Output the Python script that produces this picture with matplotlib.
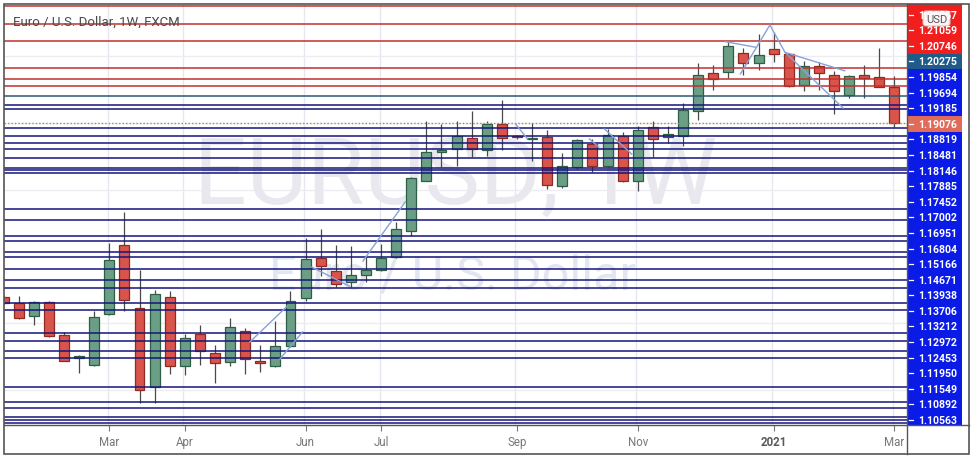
import numpy as np
import matplotlib
matplotlib.use("Agg")
import matplotlib.pyplot as plt
from matplotlib.patches import Rectangle, FancyBboxPatch
from matplotlib.lines import Line2D

plt.rcParams['font.family'] = ['Roboto', 'DejaVu Sans']

# weekly candles, EUR/USD, week of 13 Jan 2020 .. week of 1 Mar 2021
opens = [1.1117, 1.1090, 1.1032, 1.1095, 1.0946, 1.0844, 1.0811, 1.1041, 1.1351, 1.1068,
         1.0712, 1.1117, 1.0807, 1.0951, 1.0865, 1.0825, 1.0964, 1.0829, 1.0807, 1.0897,
         1.1113, 1.1293, 1.1234, 1.1185, 1.1216, 1.1239, 1.1297, 1.1414, 1.1639, 1.1770,
         1.1783, 1.1833, 1.1779, 1.1896, 1.1839, 1.1826, 1.1837, 1.1617, 1.1702, 1.1806,
         1.1707, 1.1842, 1.1639, 1.1882, 1.1837, 1.1842, 1.1954, 1.2125, 1.2130, 1.2215,
         1.2170, 1.2233, 1.2211, 1.2071, 1.2157, 1.2116, 1.2026, 1.2116, 1.2107, 1.2062]
highs = [1.1121, 1.1121, 1.1097, 1.1099, 1.0960, 1.0856, 1.1054, 1.1360, 1.1500, 1.1239,
         1.1149, 1.1144, 1.0951, 1.0991, 1.0901, 1.1022, 1.0978, 1.0901, 1.1009, 1.1144,
         1.1383, 1.1423, 1.1351, 1.1347, 1.1302, 1.1356, 1.1455, 1.1655, 1.1909, 1.1896,
         1.1909, 1.1954, 1.1909, 1.2004, 1.1846, 1.1900, 1.1869, 1.1765, 1.1828, 1.1828,
         1.1873, 1.1860, 1.1887, 1.1909, 1.1887, 1.1990, 1.2170, 1.2161, 1.2265, 1.2238,
         1.2301, 1.2310, 1.2213, 1.2179, 1.2175, 1.2134, 1.2116, 1.2161, 1.2238, 1.2112]
lows = [1.1086, 1.1020, 1.0991, 1.0937, 1.0827, 1.0775, 1.0807, 1.1038, 1.1054, 1.0640,
        1.0640, 1.0771, 1.0766, 1.0811, 1.0730, 1.0807, 1.0771, 1.0780, 1.0802, 1.0892,
        1.1099, 1.1212, 1.1162, 1.1162, 1.1185, 1.1234, 1.1294, 1.1392, 1.1637, 1.1702,
        1.1707, 1.1747, 1.1752, 1.1779, 1.1828, 1.1729, 1.1603, 1.1608, 1.1693, 1.1680,
        1.1702, 1.1635, 1.1594, 1.1747, 1.1810, 1.1797, 1.1914, 1.2049, 1.2103, 1.2116,
        1.2139, 1.2175, 1.2064, 1.2044, 1.2049, 1.1941, 1.2013, 1.2013, 1.2060, 1.1882]
closes = [1.1090, 1.1022, 1.1095, 1.0941, 1.0829, 1.0852, 1.1027, 1.1284, 1.1104, 1.0699,
          1.1131, 1.0807, 1.0933, 1.0874, 1.0820, 1.0982, 1.0838, 1.0820, 1.0897, 1.1099,
          1.1288, 1.1257, 1.1176, 1.1216, 1.1239, 1.1293, 1.1423, 1.1653, 1.1770, 1.1779,
          1.1842, 1.1783, 1.1896, 1.1833, 1.1835, 1.1830, 1.1621, 1.1707, 1.1824, 1.1707,
          1.1846, 1.1639, 1.1869, 1.1828, 1.1851, 1.1959, 1.2116, 1.2098, 1.2247, 1.2170,
          1.2206, 1.2211, 1.2067, 1.2157, 1.2125, 1.2044, 1.2112, 1.2103, 1.2062, 1.1900]

tick_weeks = [7, 12, 20, 25, 34, 42, 51, 59]
tick_labels = ["Mar", "Apr", "Jun", "Jul", "Sep", "Nov", "2021", "Mar"]

# horizontal levels drawn on the chart
red_levels = [1.2427, 1.2346, 1.2269, 1.2148, 1.2098, 1.2067]
teal_levels = [1.2022]
blue_levels = [1.1981, 1.1962, 1.1878, 1.1842, 1.1809, 1.1782, 1.1743, 1.1696, 1.1689,
               1.1675, 1.1512, 1.1464, 1.1393, 1.1369, 1.1318, 1.1296, 1.1242, 1.1194,
               1.1156, 1.1089, 1.1060, 1.0955, 1.0918, 1.0873, 1.0844, 1.0711, 1.0645,
               1.0618, 1.0576, 1.0564, 1.0550]
last_price = 1.1900

# price scale labels (top to bottom)
scale_labels = ["1.21557", "1.21059", "1.20746", "1.20275", "1.19854", "1.19694", "1.19185",
                "1.19076", "1.18819", "1.18481", "1.18146", "1.17885", "1.17452", "1.17002",
                "1.16951", "1.16804", "1.15166", "1.14671", "1.13938", "1.13706", "1.13212",
                "1.12972", "1.12453", "1.11950", "1.11549", "1.10892", "1.10563"]
scale_kinds = ["r", "r", "r", "t", "b", "b", "b", "p"] + ["b"] * 19

# hand drawn trend lines: (week, price) pairs
drawings = [
    [(16.3, 1.0914), (18.8, 1.1077)],
    [(18.3, 1.0838), (19.8, 1.0960)],
    [(20.4, 1.1252), (22.9, 1.1166)],
    [(23.8, 1.1279), (26.6, 1.1545)],
    [(33.9, 1.1896), (34.7, 1.1828)],
    [(38.8, 1.1828), (39.4, 1.1792)],
    [(39.8, 1.1873), (41.6, 1.1760)],
    [(47.8, 1.2266), (49.8, 1.2241)],
    [(48.8, 1.2121), (50.75, 1.2341), (51.75, 1.2218), (55.7, 1.2135)],
    [(51.75, 1.2218), (55.6, 1.1967)],
]

W, H = 973, 460


def px_box(l, t, r, b):
    return [l / W, 1 - b / H, (r - l) / W, (b - t) / H]


fig = plt.figure(figsize=(W / 100, H / 100), dpi=100)
ax = fig.add_axes(px_box(4, 5, 907, 426))
pax = fig.add_axes(px_box(907, 5, 962, 426))

weeks = np.arange(len(opens))
o = np.array(opens)
c = np.array(closes)
hi = np.array(highs)
lo = np.array(lows)
up = c >= o

ax.set_xlim(0.026, 59.83)
ax.set_ylim(1.0541, 1.24355)

# grid
for w in tick_weeks:
    ax.axvline(w - 0.1, color='#e6e8f0', lw=1, zorder=0)
for g in [1.07, 1.10, 1.13, 1.16, 1.19, 1.22]:
    ax.axhline(g, color='#ececf2', lw=1, zorder=0)

# watermark
ax.text(0.5006, 0.525, "EURUSD, 1W", transform=ax.transAxes, ha='center', va='baseline',
        fontsize=67, color='#e8e8ee', zorder=0.5)
ax.text(0.4967, 0.3254, "Euro / U.S. Dollar", transform=ax.transAxes, ha='center',
        va='baseline', fontsize=35, color='#e3e6f0', zorder=0.5)

# candles
ax.vlines(weeks, lo, hi, color='#4a4a4a', lw=0.9, zorder=2)
body = np.maximum(np.abs(c - o), 0.0007)
ax.bar(weeks[up], body[up], bottom=np.minimum(o, c)[up], width=0.66,
       color='#6b9f85', edgecolor='#2f5e47', lw=0.9, zorder=2.5)
ax.bar(weeks[~up], body[~up], bottom=np.minimum(o, c)[~up], width=0.66,
       color='#d9544a', edgecolor='#8e2b22', lw=0.9, zorder=2.5)

# levels
for lv in red_levels:
    ax.axhline(lv, color='#c0302c', lw=1.1, zorder=3)
for lv in teal_levels:
    ax.axhline(lv, color='#2b5872', lw=1.1, zorder=3)
for lv in blue_levels:
    ax.axhline(lv, color='#15157c', lw=1.1, zorder=3)
ax.axhline(last_price, color='#a08a6a', lw=1, ls=(0, (1, 1.5)), zorder=3)

for seg in drawings:
    xs, ys = zip(*seg)
    ax.plot(xs, ys, color='#86a2da', lw=1, zorder=4)

ax.text(0.00997, 0.950, "Euro / U.S. Dollar, 1W, FXCM", transform=ax.transAxes,
        fontsize=9.5, color='#4a4a4a', va='baseline', zorder=6)

ax.set_yticks([])
ax.set_xticks(tick_weeks)
ax.set_xticklabels(tick_labels)
ax.tick_params(axis='x', length=4, width=0.8, color='#777', labelsize=8.3,
               labelcolor='#777', pad=3)
for lab in ax.get_xticklabels():
    if lab.get_text() == "2021":
        lab.set_fontweight('bold')
        lab.set_color('#5a5a5a')
for s in ax.spines.values():
    s.set_visible(False)

# price scale panel
pax.set_xlim(0, 55)
pax.set_ylim(421, 0)
pax.axis('off')
kind_col = {'r': '#f21d1d', 't': '#1f5a88', 'b': '#0b1be6', 'p': '#e06b59'}
centers = np.linspace(10.7, 416, len(scale_labels))
step = centers[1] - centers[0]
for k, (lab, kind) in enumerate(zip(scale_labels, scale_kinds)):
    yc = centers[k]
    top = 0 if k == 0 else yc - step / 2
    bot = 421 if k == len(scale_labels) - 1 else yc + step / 2
    pax.add_patch(Rectangle((1, top), 54, bot - top, color=kind_col[kind], lw=0))
    pax.plot([2, 6], [yc, yc], color='white', lw=0.9)
    pax.text(11, yc, lab, color='white', fontsize=7.6, fontweight='bold', va='center', ha='left')
pax.add_patch(FancyBboxPatch((16, 7), 27, 15, boxstyle="round,pad=0,rounding_size=3",
                             facecolor='#ffffff', edgecolor='#c8c8c8', lw=0.8, alpha=0.95))
pax.text(29.5, 14.7, "USD", color='#555555', fontsize=8, ha='center', va='center')

# outer frame and separators
fig.add_artist(Rectangle((4 / W, 1 - 455 / H), 965 / W, 450 / H, transform=fig.transFigure,
                         fill=False, ec='#555555', lw=1.2))
fig.add_artist(Line2D([4 / W, 969 / W], [1 - 426 / H] * 2, transform=fig.transFigure,
                      color='#555555', lw=1))
fig.add_artist(Line2D([907 / W] * 2, [1 - 455 / H, 1 - 5 / H], transform=fig.transFigure,
                      color='#555555', lw=1))

fig.savefig("out.png", dpi=100)
